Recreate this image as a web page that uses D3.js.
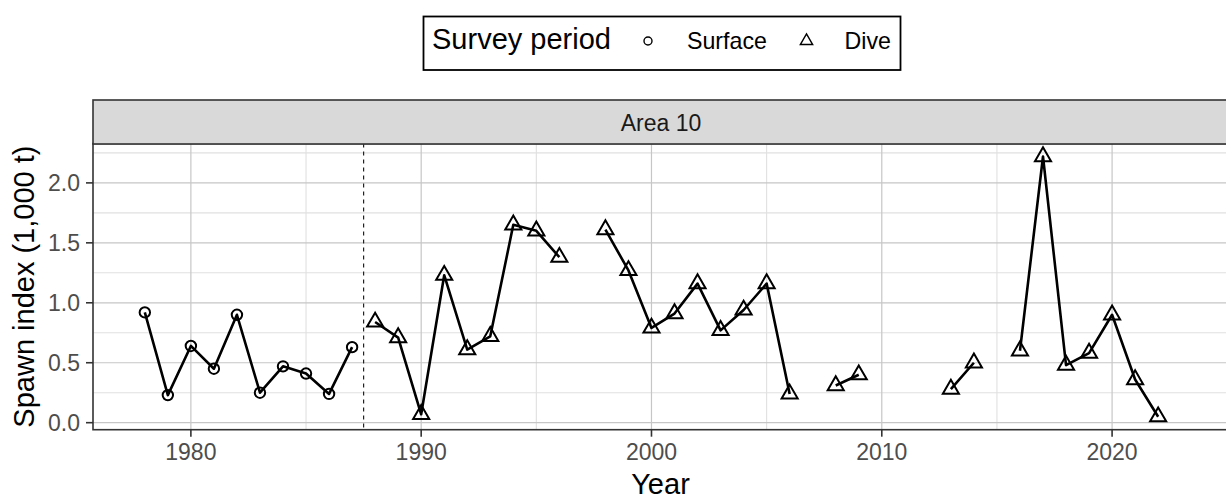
<!DOCTYPE html>
<html>
<head>
<meta charset="utf-8">
<script src="https://cdn.jsdelivr.net/npm/d3@7"></script>
<style>
  html, body { margin: 0; padding: 0; background: #ffffff; }
  svg { display: block; font-family: "Liberation Sans", Arial, Helvetica, sans-serif; }
</style>
</head>
<body>
<div id="chart"></div>
<script>
// Herring spawn index, Area 10: surface surveys (1978-1987) and dive surveys (1988 on)
const surfaceYears  = [1978, 1979, 1980, 1981, 1982, 1983, 1984, 1985, 1986, 1987];
const surfaceValues = [0.92, 0.23, 0.64, 0.45, 0.90, 0.25, 0.47, 0.41, 0.24, 0.63];

const diveYears  = [1988, 1989, 1990, 1991, 1992, 1993, 1994, 1995, 1996, 1997,
                    1998, 1999, 2000, 2001, 2002, 2003, 2004, 2005, 2006, 2007,
                    2008, 2009, 2010, 2011, 2012, 2013, 2014, 2015, 2016, 2017,
                    2018, 2019, 2020, 2021, 2022];
const diveValues = [0.84, 0.71, 0.07, 1.23, 0.61, 0.72, 1.65, 1.60, 1.38, null,
                    1.61, 1.27, 0.79, 0.91, 1.16, 0.77, 0.94, 1.16, 0.24, null,
                    0.31, 0.40, null, null, null, 0.28, 0.50, null, 0.60, 2.22,
                    0.48, 0.58, 0.90, 0.36, 0.05];

const xLimits = [1978, 2023];
const xTicks = [1980, 1990, 2000, 2010, 2020];
const xMinorTicks = [1985, 1995, 2005, 2015];
const yTicks = [0, 0.5, 1.0, 1.5, 2.0];
const yMinorTicks = [0.25, 0.75, 1.25, 1.75, 2.25];
const periodChange = 1987.5;

const facetLabel = "Area 10";
const xTitle = "Year";
const yTitle = "Spawn index (1,000 t)";
const legendTitle = "Survey period";
const legendLabels = ["Surface", "Dive"];

const W = 1226, H = 501;
const panel = { left: 93, right: 1233, top: 143.5, bottom: 429.7 };
const strip = { top: 100, bottom: 144 };

const surface = surfaceYears.map((y, i) => ({ year: y, value: surfaceValues[i] }));
const dive = diveYears.map((y, i) => ({ year: y, value: diveValues[i] }));
const allVals = surfaceValues.concat(diveValues).filter(v => v != null);

function expand(lo, hi, f) { const d = (hi - lo) * f; return [lo - d, hi + d]; }

const x = d3.scaleLinear().domain(expand(xLimits[0], xLimits[1], 0.05)).range([panel.left, panel.right]);
const y = d3.scaleLinear().domain(expand(d3.min(allVals), d3.max(allVals), 0.05)).range([panel.bottom, panel.top]);

const svg = d3.select("#chart").append("svg").attr("width", W).attr("height", H);

svg.append("defs").append("clipPath").attr("id", "panelClip")
  .append("rect").attr("x", panel.left).attr("y", panel.top)
  .attr("width", panel.right - panel.left).attr("height", panel.bottom - panel.top);

const g = svg.append("g").attr("clip-path", "url(#panelClip)");

// Panel background
g.append("rect").attr("x", panel.left).attr("y", panel.top)
  .attr("width", panel.right - panel.left).attr("height", panel.bottom - panel.top)
  .attr("fill", "#ffffff");

// Minor grid
g.selectAll(".vminor").data(xMinorTicks).join("line")
  .attr("class", "vminor")
  .attr("x1", d => x(d)).attr("x2", d => x(d))
  .attr("y1", panel.top).attr("y2", panel.bottom)
  .attr("stroke", "#e0e0e0").attr("stroke-width", 1.1);
g.selectAll(".hminor").data(yMinorTicks).join("line")
  .attr("class", "hminor")
  .attr("x1", panel.left).attr("x2", panel.right)
  .attr("y1", d => y(d)).attr("y2", d => y(d))
  .attr("stroke", "#e0e0e0").attr("stroke-width", 1.1);

// Major grid
g.selectAll(".vmajor").data(xTicks).join("line")
  .attr("class", "vmajor")
  .attr("x1", d => x(d)).attr("x2", d => x(d))
  .attr("y1", panel.top).attr("y2", panel.bottom)
  .attr("stroke", "#c6c6c6").attr("stroke-width", 1.2);
g.selectAll(".hmajor").data(yTicks).join("line")
  .attr("class", "hmajor")
  .attr("x1", panel.left).attr("x2", panel.right)
  .attr("y1", d => y(d)).attr("y2", d => y(d))
  .attr("stroke", "#c6c6c6").attr("stroke-width", 1.2);

// Survey method change
g.append("line")
  .attr("x1", x(periodChange)).attr("x2", x(periodChange))
  .attr("y1", panel.top).attr("y2", panel.bottom)
  .attr("stroke", "#222").attr("stroke-width", 1.2)
  .attr("stroke-dasharray", "4,4");

// Lines
const line = d3.line().defined(d => d.value != null).x(d => x(d.year)).y(d => y(d.value));
[surface, dive].forEach(data => {
  g.append("path").datum(data).attr("d", line)
    .attr("fill", "none").attr("stroke", "#000").attr("stroke-width", 2.6)
    .attr("stroke-linejoin", "round");
});

// Points
g.selectAll(".surf").data(surface).join("circle")
  .attr("class", "surf")
  .attr("cx", d => x(d.year)).attr("cy", d => y(d.value)).attr("r", 5.2)
  .attr("fill", "none").attr("stroke", "#000").attr("stroke-width", 2);

const tri = d3.symbol().type(d3.symbolTriangle).size(112);
g.selectAll(".dive").data(dive.filter(d => d.value != null)).join("path")
  .attr("class", "dive")
  .attr("d", tri)
  .attr("transform", d => `translate(${x(d.year)},${y(d.value)})`)
  .attr("fill", "none").attr("stroke", "#000").attr("stroke-width", 2)
  .attr("stroke-linejoin", "miter");

// Panel border
svg.append("rect").attr("x", panel.left).attr("y", panel.top)
  .attr("width", panel.right - panel.left).attr("height", panel.bottom - panel.top)
  .attr("fill", "none").attr("stroke", "#333").attr("stroke-width", 1.6);

// Facet strip
svg.append("rect").attr("x", panel.left).attr("y", strip.top)
  .attr("width", panel.right - panel.left).attr("height", strip.bottom - strip.top)
  .attr("fill", "#d9d9d9").attr("stroke", "#333").attr("stroke-width", 1.6);
svg.append("text")
  .attr("x", (panel.left + Math.min(panel.right, W + 7)) / 2 - 2)
  .attr("y", (strip.top + strip.bottom) / 2 + 8.5)
  .attr("text-anchor", "middle").attr("font-size", 23).attr("fill", "#1a1a1a")
  .text(facetLabel);

// X axis
const xAxis = svg.append("g");
xAxis.selectAll("line").data(xTicks).join("line")
  .attr("x1", d => x(d)).attr("x2", d => x(d))
  .attr("y1", panel.bottom).attr("y2", panel.bottom + 7)
  .attr("stroke", "#333").attr("stroke-width", 1.6);
xAxis.selectAll("text").data(xTicks).join("text")
  .attr("x", d => x(d)).attr("y", 460)
  .attr("text-anchor", "middle").attr("font-size", 23).attr("fill", "#4d4d4d")
  .text(d => d3.format("d")(d));

// Y axis
const yAxis = svg.append("g");
yAxis.selectAll("line").data(yTicks).join("line")
  .attr("x1", panel.left - 7).attr("x2", panel.left)
  .attr("y1", d => y(d)).attr("y2", d => y(d))
  .attr("stroke", "#333").attr("stroke-width", 1.6);
yAxis.selectAll("text").data(yTicks).join("text")
  .attr("x", 80).attr("y", d => y(d) + 8.2)
  .attr("text-anchor", "end").attr("font-size", 23).attr("fill", "#4d4d4d")
  .text(d => d3.format(".1f")(d));

// Axis titles
svg.append("text")
  .attr("x", (panel.left + W) / 2 + 1).attr("y", 494)
  .attr("text-anchor", "middle").attr("font-size", 29).attr("fill", "#000")
  .text(xTitle);
svg.append("text")
  .attr("transform", `translate(33.5,${(panel.top + panel.bottom) / 2}) rotate(-90)`)
  .attr("text-anchor", "middle").attr("font-size", 29).attr("fill", "#000")
  .text(yTitle);

// Legend
const lg = svg.append("g");
lg.append("rect").attr("x", 423.5).attr("y", 16.5).attr("width", 477).attr("height", 53.5)
  .attr("fill", "#fff").attr("stroke", "#000").attr("stroke-width", 1.8);
lg.append("text").attr("x", 432).attr("y", 48.5)
  .attr("font-size", 29).attr("fill", "#000").text(legendTitle);
lg.append("circle").attr("cx", 648).attr("cy", 41).attr("r", 4)
  .attr("fill", "none").attr("stroke", "#000").attr("stroke-width", 1.4);
lg.append("text").attr("x", 687).attr("y", 48.5)
  .attr("font-size", 23.2).attr("fill", "#000").text(legendLabels[0]);
lg.append("path").attr("d", d3.symbol().type(d3.symbolTriangle).size(66)())
  .attr("transform", "translate(806.5,41)")
  .attr("fill", "none").attr("stroke", "#000").attr("stroke-width", 1.4);
lg.append("text").attr("x", 844.5).attr("y", 48.5)
  .attr("font-size", 23.2).attr("fill", "#000").text(legendLabels[1]);
</script>
</body>
</html>
